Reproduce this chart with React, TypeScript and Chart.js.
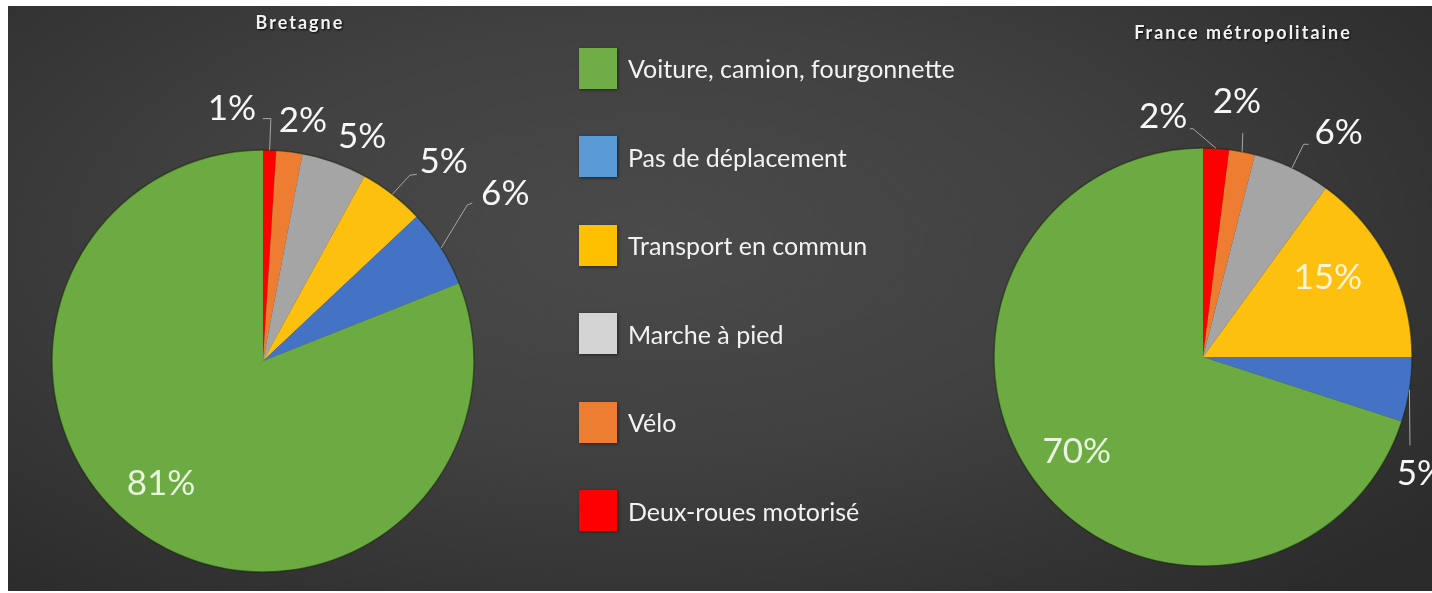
import React, { useEffect, useRef } from "react";
import { Chart, registerables } from "chart.js";

Chart.register(...registerables);

// ---- data ----
const categories = [
  "Deux-roues motorisé",
  "Vélo",
  "Marche à pied",
  "Transport en commun",
  "Pas de déplacement",
  "Voiture, camion, fourgonnette",
];
const bretagneValues = [1, 2, 5, 5, 6, 81];
const franceValues = [2, 2, 6, 15, 5, 70];
const titles = ["Bretagne", "France métropolitaine"];
const legendItems = [
  "Voiture, camion, fourgonnette",
  "Pas de déplacement",
  "Transport en commun",
  "Marche à pied",
  "Vélo",
  "Deux-roues motorisé",
];

// ---- styles ----
const sliceColors = ["#ff0000", "#ed7d31", "#a5a5a5", "#fdc00f", "#4472c4", "#6cab42"];
const legendColors = ["#70ad47", "#5b9bd5", "#ffc000", "#d4d4d4", "#ed7d31", "#ff0000"];
const insideLabelColors = ["#f7f7f7", "#f7f7f7", "#f7f7f7", "#fff4d6", "#f7f7f7", "#eaf5e0"];
const outsideLabelColor = "#f7f7f7";

// label layout: [angle shift from slice middle (deg), distance as fraction of radius]
const bretagneLabelPos = [
  [-8.8, 1.21],
  [2.2, 1.16],
  [3.9, 1.17],
  [4.2, 1.28],
  [-2.5, 1.4],
  [5.9, 0.75],
];
const franceLabelPos = [
  [-13, 1.17],
  [-3.3, 1.24],
  [5.8, 1.26],
  [-5.8, 0.71],
  [18.9, 1.18],
  [-0.4, 0.75],
];
// leader line bends, relative to label centre
const bretagneLeaders = [
  [[39, 11], [31, 11]],
  null,
  null,
  [[-34, 15], [-27, 14]],
  [[-38, 13], [-33, 11]],
  null,
];
const franceLeaders = [
  [[30, 13], [27, 13]],
  [[6, 33]],
  [[-35, 13], [-30, 13]],
  null,
  [[-11, -27]],
  null,
];

const FONT = "Lato, 'Open Sans', sans-serif";

const sliceLabelPlugin = {
  id: "sliceLabels",
  afterDatasetsDraw(chart: any, _args: any, opts: any) {
    const meta = chart.getDatasetMeta(0);
    const ctx = chart.ctx as CanvasRenderingContext2D;
    const values = chart.data.datasets[0].data as number[];
    ctx.save();
    const first = meta.data[0].getProps(["x", "y", "outerRadius"], true);
    ctx.beginPath();
    ctx.arc(first.x, first.y, first.outerRadius, 0, Math.PI * 2);
    ctx.strokeStyle = "rgba(25,40,15,0.55)";
    ctx.lineWidth = 1.5;
    ctx.stroke();
    const size = 35;
    meta.data.forEach((arc: any, i: number) => {
      const { x, y, startAngle, endAngle, outerRadius } = arc.getProps(
        ["x", "y", "startAngle", "endAngle", "outerRadius"],
        true
      );
      const mid = (startAngle + endAngle) / 2;
      const [dDeg, f] = opts.positions[i];
      const ang = mid + (dDeg * Math.PI) / 180;
      const lx = x + Math.cos(ang) * outerRadius * f;
      const ly = y + Math.sin(ang) * outerRadius * f;
      const leader = opts.leaders[i];
      if (leader) {
        ctx.beginPath();
        ctx.moveTo(x + Math.cos(mid) * outerRadius, y + Math.sin(mid) * outerRadius);
        leader.forEach(([dx, dy]: number[]) => ctx.lineTo(lx + dx, ly + dy));
        ctx.strokeStyle = "#a6a6a6";
        ctx.lineWidth = 1;
        ctx.stroke();
      }
      ctx.font = `${size}px ${FONT}`;
      ctx.textAlign = "center";
      ctx.textBaseline = "alphabetic";
      ctx.fillStyle = f < 1 ? insideLabelColors[i] : outsideLabelColor;
      ctx.fillText(`${values[i]}%`, lx, ly + size * 0.36);
    });
    ctx.restore();
  },
};

const W = 1424;
const H = 585;

function makeChart(
  canvas: HTMLCanvasElement,
  values: number[],
  padding: any,
  positions: number[][],
  leaders: any[]
) {
  return new Chart(canvas, {
    type: "pie",
    data: {
      labels: categories,
      datasets: [
        {
          data: values,
          backgroundColor: sliceColors,
          borderWidth: 0,
        },
      ],
    },
    options: {
      animation: false,
      responsive: false,
      maintainAspectRatio: false,
      layout: { padding },
      plugins: {
        legend: { display: false },
        tooltip: { enabled: false },
        sliceLabels: { positions, leaders },
      } as any,
    },
    plugins: [sliceLabelPlugin as any],
  });
}

export default function App() {
  const leftRef = useRef<HTMLCanvasElement>(null);
  const rightRef = useRef<HTMLCanvasElement>(null);

  useEffect(() => {
    const c1 = makeChart(
      leftRef.current!,
      bretagneValues,
      { left: 44, top: 144, right: 958, bottom: 19 },
      bretagneLabelPos,
      bretagneLeaders
    );
    const c2 = makeChart(
      rightRef.current!,
      franceValues,
      { left: 986, top: 142, right: 20, bottom: 25 },
      franceLabelPos,
      franceLeaders
    );
    return () => {
      c1.destroy();
      c2.destroy();
    };
  }, []);

  const titleStyle: React.CSSProperties = {
    position: "absolute",
    width: 400,
    textAlign: "center",
    fontFamily: FONT,
    fontWeight: 700,
    fontSize: 18,
    letterSpacing: 2,
    lineHeight: "22px",
    color: "#f2f2f2",
    textShadow: "1px 1px 2px rgba(0,0,0,0.85)",
  };

  return (
    <div
      style={{
        position: "absolute",
        left: 8,
        top: 6,
        width: W,
        height: H,
        overflow: "hidden",
        background:
          "radial-gradient(ellipse 70% 80% at 45% 40%, #4a4a4a 0%, #414141 45%, #333333 80%, #2b2b2b 100%)",
      }}
    >
      <canvas
        ref={leftRef}
        width={W}
        height={H}
        style={{ position: "absolute", left: 0, top: 0, width: W, height: H }}
      />
      <canvas
        ref={rightRef}
        width={W}
        height={H}
        style={{ position: "absolute", left: 0, top: 0, width: W, height: H }}
      />
      <div style={{ ...titleStyle, left: 292 - 200, top: 5 }}>{titles[0]}</div>
      <div style={{ ...titleStyle, left: 1235 - 200, top: 15 }}>{titles[1]}</div>
      {legendItems.map((item, i) => (
        <div
          key={item}
          style={{
            position: "absolute",
            left: 571,
            top: 41.5 + i * 88.5,
            height: 41,
            display: "flex",
            alignItems: "center",
          }}
        >
          <div
            style={{
              width: 38,
              height: 41,
              background: legendColors[i],
              boxShadow: "1px 1px 3px rgba(0,0,0,0.5)",
            }}
          />
          <div
            style={{
              marginLeft: 11,
              fontFamily: FONT,
              fontSize: 25,
              color: "#f2f2f2",
              whiteSpace: "nowrap",
            }}
          >
            {item}
          </div>
        </div>
      ))}
    </div>
  );
}
